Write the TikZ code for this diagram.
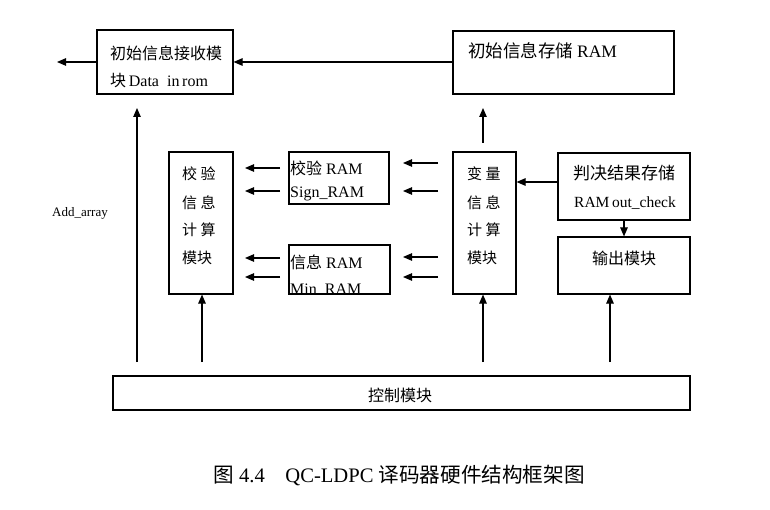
\documentclass[tikz,border=0pt]{standalone}
\usepackage{fontspec}
\setmainfont{Liberation Serif}
\newfontfamily\zhf{Noto Sans CJK SC}
\usetikzlibrary{arrows.meta}
\tikzset{
  box/.style={draw, line width=1.1pt, inner sep=0pt},
  lbl/.style={anchor=west, inner sep=0pt, font=\fontsize{16}{16}\selectfont},
  arr/.style={line width=1.1pt, -{Triangle[length=9pt,width=7.5pt]}},
}
\begin{document}
\begin{tikzpicture}[x=1pt,y=-1pt]
\useasboundingbox (0,0) rectangle (770,510);
% boxes
\node[box, minimum width=136pt, minimum height=64pt] (recv) at (165,62) {};
\node[box, minimum width=221pt, minimum height=63pt] (ram0) at (563.5,62.5) {};
\node[box, minimum width=64pt, minimum height=142pt] (chk) at (201,223) {};
\node[box, minimum width=100pt, minimum height=52pt] (sram) at (339,178) {};
\node[box, minimum width=101pt, minimum height=49pt] (mram) at (339.5,269.5) {};
\node[box, minimum width=63pt, minimum height=142pt] (var) at (484.5,223) {};
\node[box, minimum width=132pt, minimum height=67pt] (dec) at (624,186.5) {};
\node[box, minimum width=132pt, minimum height=57pt] (out) at (624,265.5) {};
\node[box, minimum width=577pt, minimum height=34pt] (ctrl) at (401.5,393) {};
% texts
\node[lbl] (t1) at (110,53) {\zhf 初始信息接收模};
\node[lbl] (t2) at (110,81) {\zhf 块\,\rmfamily Data\ \ in\,rom};
\node[lbl, font=\fontsize{17.5}{17.5}\selectfont] (t3) at (468,51) {\zhf 初始信息存储 \rmfamily RAM};
\node[lbl, font=\fontsize{15}{15}\selectfont] (c1) at (182,174) {\zhf 校\ 验};
\node[lbl, font=\fontsize{15}{15}\selectfont] (c2) at (182,203) {\zhf 信\ 息};
\node[lbl, font=\fontsize{15}{15}\selectfont] (c3) at (182,230) {\zhf 计\ 算};
\node[lbl, font=\fontsize{15}{15}\selectfont] (c4) at (182,258) {\zhf 模块};
\node[lbl] (s1) at (290,168) {\zhf 校验\rmfamily\ RAM};
\node[lbl] (s2) at (290,194) {Sign\_RAM};
\node[lbl] (m1) at (290,262) {\zhf 信息\rmfamily\ RAM};
\begin{scope}
\clip (mram.south west) rectangle (mram.north east);
\node[lbl] (m2) at (290,290) {Min\_RAM};
\end{scope}
\node[lbl, font=\fontsize{15}{15}\selectfont] (v1) at (467,174) {\zhf 变\ 量};
\node[lbl, font=\fontsize{15}{15}\selectfont] (v2) at (467,203) {\zhf 信\ 息};
\node[lbl, font=\fontsize{15}{15}\selectfont] (v3) at (467,230) {\zhf 计\ 算};
\node[lbl, font=\fontsize{15}{15}\selectfont] (v4) at (467,258) {\zhf 模块};
\node[inner sep=0pt, font=\fontsize{17}{17}\selectfont] (d1) at (624,173) {\zhf 判决结果存储};
\node[inner sep=0pt, font=\fontsize{15.5}{15.5}\selectfont] (d2) at (625,203) {RAM\,out\_check};
\node[inner sep=0pt, font=\fontsize{16}{16}\selectfont] (o1) at (624,258) {\zhf 输出模块};
\node[inner sep=0pt, font=\fontsize{16}{16}\selectfont] (k1) at (400,395) {\zhf 控制模块};
\node[lbl, font=\fontsize{13}{13}\selectfont] (aa) at (52,213) {Add\_array};
\node[inner sep=0pt, font=\fontsize{20.6}{20.6}\selectfont] (cap) at (399,475) {\zhf 图\rmfamily\ 4.4\quad QC-LDPC\ \zhf 译码器硬件结构框架图};
% coordinates
\coordinate (outL) at (57,62);
\coordinate (a1s) at (137,362); \coordinate (a1e) at (137,108);
\coordinate (a2s) at (483,143); \coordinate (a2e) at (483,108);
\coordinate (b1s) at (202,362);
\coordinate (b2s) at (483,362);
\coordinate (b3s) at (610,362);
\coordinate (l1s) at (280,168); \coordinate (l1e) at (245,168);
\coordinate (l2s) at (280,191); \coordinate (l2e) at (245,191);
\coordinate (l3s) at (280,258); \coordinate (l3e) at (245,258);
\coordinate (l4s) at (280,277); \coordinate (l4e) at (245,277);
\coordinate (r1s) at (438,163); \coordinate (r1e) at (403,163);
\coordinate (r2s) at (438,191); \coordinate (r2e) at (403,191);
\coordinate (r3s) at (438,257); \coordinate (r3e) at (403,257);
\coordinate (r4s) at (438,277); \coordinate (r4e) at (403,277);
% connectors
\draw[arr] (recv.west) -- (outL);
\draw[arr] (ram0.west |- recv.east) -- (recv.east);
\draw[arr] (a1s) -- (a1e);
\draw[arr] (a2s) -- (a2e);
\draw[arr] (b1s) -- (b1s |- chk.south);
\draw[arr] (b2s) -- (b2s |- var.south);
\draw[arr] (b3s) -- (b3s |- out.south);
\draw[arr] (l1s) -- (l1e);
\draw[arr] (l2s) -- (l2e);
\draw[arr] (l3s) -- (l3e);
\draw[arr] (l4s) -- (l4e);
\draw[arr] (r1s) -- (r1e);
\draw[arr] (r2s) -- (r2e);
\draw[arr] (r3s) -- (r3e);
\draw[arr] (r4s) -- (r4e);
\draw[arr] (dec.west |- 0,182) -- (var.east |- 0,182);
\draw[arr] (dec.south) -- (out.north);
\end{tikzpicture}
\end{document}
